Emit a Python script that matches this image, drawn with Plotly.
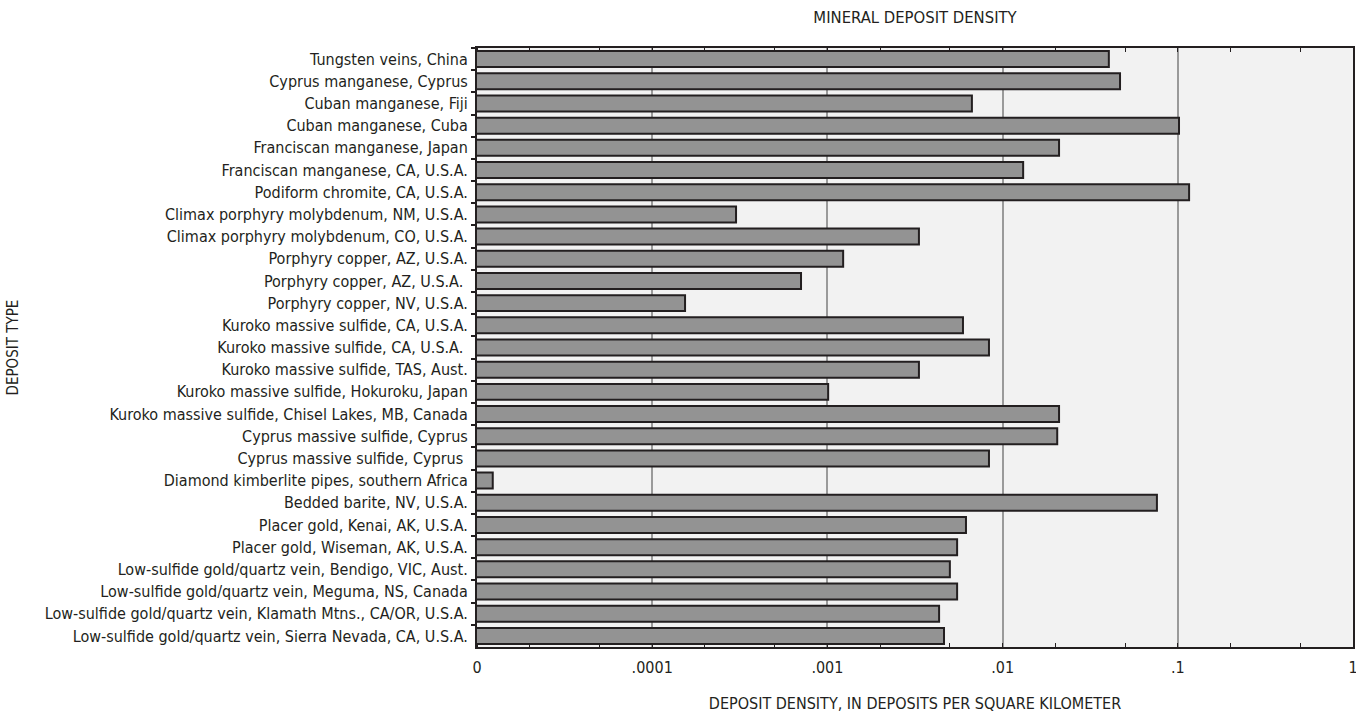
import plotly.graph_objects as go

deposit_types = [
    "Tungsten veins, China",
    "Cyprus manganese, Cyprus",
    "Cuban manganese, Fiji",
    "Cuban manganese, Cuba",
    "Franciscan manganese, Japan",
    "Franciscan manganese, CA, U.S.A.",
    "Podiform chromite, CA, U.S.A.",
    "Climax porphyry molybdenum, NM, U.S.A.",
    "Climax porphyry molybdenum, CO, U.S.A.",
    "Porphyry copper, AZ, U.S.A.",
    "Porphyry copper, AZ, U.S.A. ",
    "Porphyry copper, NV, U.S.A.",
    "Kuroko massive sulfide, CA, U.S.A.",
    "Kuroko massive sulfide, CA, U.S.A. ",
    "Kuroko massive sulfide, TAS, Aust.",
    "Kuroko massive sulfide, Hokuroku, Japan",
    "Kuroko massive sulfide, Chisel Lakes, MB, Canada",
    "Cyprus massive sulfide, Cyprus",
    "Cyprus massive sulfide, Cyprus ",
    "Diamond kimberlite pipes, southern Africa",
    "Bedded barite, NV, U.S.A.",
    "Placer gold, Kenai, AK, U.S.A.",
    "Placer gold, Wiseman, AK, U.S.A.",
    "Low-sulfide gold/quartz vein, Bendigo, VIC, Aust.",
    "Low-sulfide gold/quartz vein, Meguma, NS, Canada",
    "Low-sulfide gold/quartz vein, Klamath Mtns., CA/OR, U.S.A.",
    "Low-sulfide gold/quartz vein, Sierra Nevada, CA, U.S.A.",
]

density = [
    0.0404, 0.0468, 0.00668, 0.1016, 0.021, 0.0131, 0.116,
    0.000301, 0.00333, 0.00123, 0.000707, 0.000154,
    0.00594, 0.00836, 0.00333, 0.00101, 0.021,
    0.0205, 0.00836, 0.0000123, 0.076,
    0.00618, 0.0055, 0.005, 0.0055, 0.00434, 0.00463,
]

tick_vals = [0.00001, 0.0001, 0.001, 0.01, 0.1, 1]
tick_text = ["0", ".0001", ".001", ".01", ".1", "1"]

FONT = "Liberation Sans Narrow, DejaVu Sans Condensed, Arial Narrow, sans-serif"
INK = "#231f20"

fig = go.Figure()
fig.add_trace(go.Bar(
    x=density, y=deposit_types, orientation="h",
    width=0.72,
    marker=dict(color="#939393", line=dict(color=INK, width=2)),
    hoverinfo="x+y",
))

fig.update_layout(
    width=1356, height=722,
    margin=dict(l=477, r=3, t=48, b=75, autoexpand=False),
    paper_bgcolor="white",
    plot_bgcolor="#f2f2f2",
    showlegend=False,
    font=dict(family=FONT, size=16, color=INK),
    title=dict(text="MINERAL DEPOSIT DENSITY", x=(477 + 1353) / 2 / 1356, xanchor="center",
               y=1 - 17 / 722, yanchor="middle", yref="container",
               font=dict(family=FONT, size=16.5, color=INK)),
)

fig.update_xaxes(
    type="log", range=[-5, 0],
    tickvals=tick_vals, ticktext=tick_text,
    ticks="", ticklabelstandoff=5, ticklabeloverflow="allow",
    tickfont=dict(family=FONT, size=16, color=INK),
    showgrid=True, gridcolor="#9a9a9a", gridwidth=1.5,
    showline=True, linecolor=INK, linewidth=2, mirror="ticks",
    minor=dict(ticks="inside", ticklen=4, tickcolor=INK, tickwidth=1.3, showgrid=False),
    title=dict(text="DEPOSIT DENSITY, IN DEPOSITS PER SQUARE KILOMETER", standoff=22,
               font=dict(family=FONT, size=16, color=INK)),
    zeroline=False, automargin=False,
)

fig.update_yaxes(
    type="category", autorange="reversed",
    categoryorder="array", categoryarray=deposit_types,
    tickson="boundaries", ticks="outside", ticklen=4, tickcolor=INK, tickwidth=1.5,
    tickfont=dict(family=FONT, size=16, color=INK),
    showgrid=False,
    showline=True, linecolor=INK, linewidth=2, mirror=True,
    ticklabelstandoff=4, automargin=False,
)

fig.add_annotation(
    text="DEPOSIT TYPE", textangle=-90,
    xref="paper", yref="paper",
    x=(12 - 477) / 876, y=0.5, xanchor="center", yanchor="middle",
    showarrow=False, font=dict(family=FONT, size=15, color=INK),
)

fig.write_html("out.html", config={"displayModeBar": False},
               post_script="document.body.style.margin='0';document.body.style.padding='0';")
